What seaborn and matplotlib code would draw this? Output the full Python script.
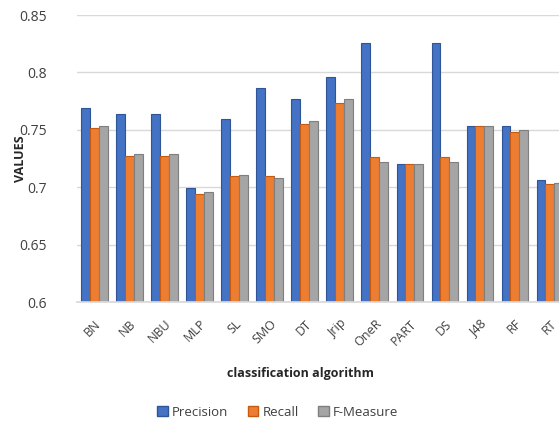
import matplotlib.pyplot as plt
import seaborn as sns
import pandas as pd

algorithms = ["BN", "NB", "NBU", "MLP", "SL", "SMO", "DT", "Jrip",
              "OneR", "PART", "DS", "J48", "RF", "RT"]
precision = [0.769, 0.764, 0.764, 0.699, 0.759, 0.786, 0.777, 0.796,
             0.826, 0.720, 0.826, 0.753, 0.753, 0.706]
recall = [0.752, 0.727, 0.727, 0.694, 0.710, 0.710, 0.755, 0.773,
          0.726, 0.720, 0.726, 0.753, 0.748, 0.703]
fmeasure = [0.753, 0.729, 0.729, 0.696, 0.711, 0.708, 0.758, 0.777,
            0.722, 0.720, 0.722, 0.753, 0.750, 0.704]
measures = ["Precision", "Recall", "F-Measure"]

df = pd.DataFrame({"algorithm": algorithms, "Precision": precision,
                   "Recall": recall, "F-Measure": fmeasure})
long = df.melt(id_vars="algorithm", var_name="measure", value_name="value")

sns.set_theme(style="white")
plt.rcParams["font.family"] = ["Open Sans", "DejaVu Sans"]

colors = {"Precision": "#4472C4", "Recall": "#ED7D31", "F-Measure": "#A5A5A5"}
edges = {"Precision": "#2F5597", "Recall": "#C55A11", "F-Measure": "#7F7F7F"}

fig = plt.figure(figsize=(5.59, 4.23), dpi=100)
ax = fig.add_axes([0.1377, 0.286, 0.877, 0.6785])

sns.barplot(data=long, x="algorithm", y="value", hue="measure",
            hue_order=measures, palette=colors, width=0.75, ax=ax,
            legend=False, saturation=1)

for cont, m in zip(ax.containers, measures):
    for bar in cont:
        bar.set_edgecolor(edges[m])
        bar.set_linewidth(0.8)

ax.set_ylim(0.6, 0.85)
ax.set_xlim(-0.5, len(algorithms) - 0.5)
ax.set_yticks([0.6, 0.65, 0.7, 0.75, 0.8, 0.85])
ax.set_yticklabels(["0.6", "0.65", "0.7", "0.75", "0.8", "0.85"])
ax.yaxis.grid(True, color="#D9D9D9", linewidth=1)
ax.set_axisbelow(True)
for s in ["top", "right", "left"]:
    ax.spines[s].set_visible(False)
ax.spines["bottom"].set_color("#D9D9D9")
ax.tick_params(axis="y", labelsize=10, colors="#404040", length=0, pad=22)
ax.tick_params(axis="x", labelsize=9, colors="#404040", length=0, pad=11)
plt.setp(ax.get_xticklabels(), rotation=45, ha="right", rotation_mode="anchor")
ax.set_xlabel("")
ax.set_ylabel("")

fig.text(0.537, 0.118, "classification algorithm", ha="center", va="center",
         fontsize=9, fontweight="bold", color="#262626")
fig.text(0.036, 0.626, "VALUES", ha="center", va="center", rotation=90,
         fontsize=9, fontweight="bold", color="#262626")

handles = [plt.Rectangle((0, 0), 1, 1, facecolor=colors[m], edgecolor=edges[m])
           for m in measures]
fig.legend(handles, measures, loc="center", bbox_to_anchor=(0.497, 0.025),
           ncol=3, frameon=False, fontsize=9.5, handlelength=0.8,
           handleheight=0.8, handletextpad=0.3, columnspacing=1.5,
           labelcolor="#404040")

fig.savefig("out.png", dpi=100)
